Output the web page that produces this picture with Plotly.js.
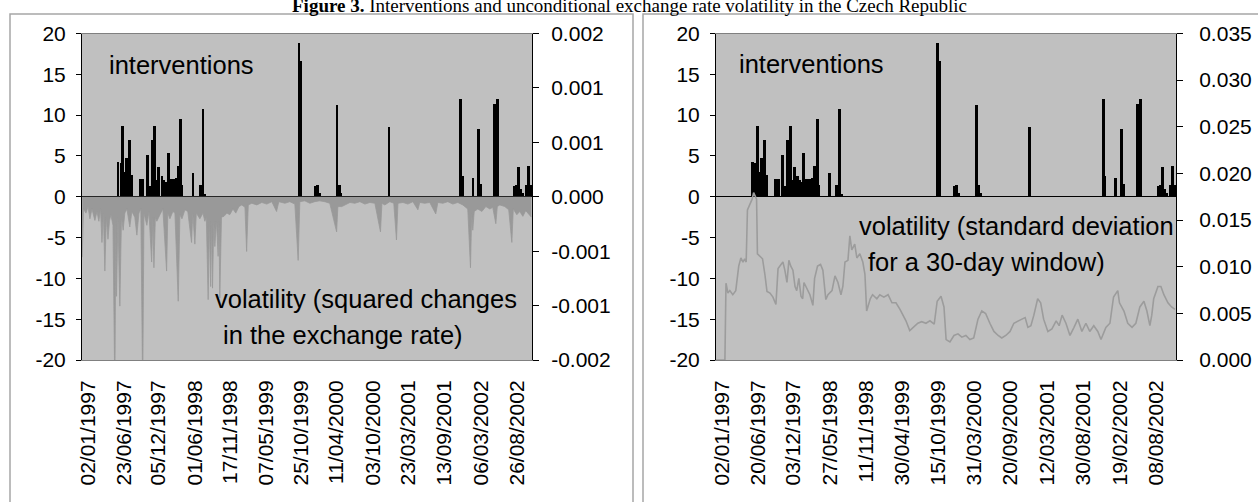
<!DOCTYPE html>
<html>
<head>
<meta charset="utf-8">
<script src="https://cdn.plot.ly/plotly-3.0.1.min.js"></script>
<style>html,body{margin:0;padding:0;background:#fff;}#chart{width:1258px;height:502px;}</style>
</head>
<body>
<div id="chart"></div>
<script>
// ---------------- DATA ----------------
// Interventions (both panels, left axis)
const interventionDates = ['1997-06-23','1997-07-08','1997-07-17','1997-07-28','1997-08-05','1997-08-18','1997-08-29',
 '1997-10-07','1997-10-21','1997-11-10','1997-11-24','1997-12-04','1997-12-16','1997-12-29','1998-01-06','1998-01-21',
 '1998-01-28','1998-02-09','1998-02-19','1998-03-05','1998-03-16','1998-03-30','1998-04-08','1998-04-22','1998-04-27',
 '1998-06-19','1998-07-23','1998-08-06','1998-08-13','1999-11-11','1999-11-18','2000-01-27','2000-02-07','2000-02-17',
 '2000-05-12','2000-05-22','2000-05-29','2001-01-17','2001-12-28','2002-01-04','2002-02-25','2002-03-25','2002-04-03',
 '2002-06-10','2002-06-21','2002-09-13','2002-09-23','2002-10-03','2002-10-14','2002-10-22','2002-11-11','2002-11-20','2002-11-29'];
const interventionValues = [4.2,4.1,8.7,3.0,4.8,7.0,2.7,
 2.2,2.2,5.1,1.3,7.0,8.7,2.0,3.6,2.6,
 2.0,1.8,5.3,2.2,2.2,2.3,3.8,9.5,1.5,
 2.9,1.4,10.7,0.3,18.8,16.6,1.3,1.4,0.4,
 11.3,1.4,0.4,8.6,12.0,2.5,2.3,8.3,1.6,
 11.4,12.0,1.3,1.5,3.6,1.0,0.5,1.4,3.8,1.5];

// Left panel: volatility as squared changes in the exchange rate (plotted negative, right axis)
const sqChangeDates = ['1997-01-02','1997-01-08','1997-01-20','1997-01-30','1997-02-08','1997-02-18','1997-03-04','1997-03-14',
 '1997-03-23','1997-03-31','1997-04-07','1997-04-14','1997-04-21','1997-04-28','1997-05-06','1997-05-13','1997-05-20','1997-05-30',
 '1997-06-08','1997-06-13','1997-06-16','1997-06-23','1997-07-02','1997-07-10','1997-07-18','1997-07-26','1997-08-05','1997-08-19',
 '1997-08-29','1997-09-12','1997-09-22','1997-10-02','1997-10-11','1997-10-20','1997-10-26','1997-11-09','1997-11-19','1997-12-02',
 '1997-12-08','1997-12-13','1997-12-20','1997-12-27','1998-01-11','1998-01-25','1998-02-12','1998-02-18','1998-02-28','1998-03-14',
 '1998-03-24','1998-04-09','1998-04-17','1998-04-27','1998-05-11','1998-05-25','1998-06-12','1998-06-18','1998-06-28','1998-07-05',
 '1998-07-22','1998-08-06','1998-08-15','1998-08-22','1998-08-31','1998-09-06','1998-09-12','1998-09-16','1998-09-21','1998-09-27',
 '1998-10-02','1998-10-10','1998-10-18','1998-10-22','1998-10-26','1998-11-03','1998-11-15','1998-11-29','1998-12-13','1998-12-28',
 '1999-01-11','1999-01-26','1999-02-09','1999-02-24','1999-03-04','1999-03-12','1999-03-29','1999-04-22','1999-05-16','1999-06-09',
 '1999-07-03','1999-07-26','1999-08-06','1999-09-04','1999-09-28','1999-10-22','1999-11-07','1999-11-15','1999-12-09','2000-01-02',
 '2000-01-26','2000-02-19','2000-03-14','2000-04-07','2000-05-10','2000-05-16','2000-06-04','2000-06-19','2000-07-13','2000-08-06',
 '2000-08-30','2000-09-23','2000-10-17','2000-11-10','2000-12-07','2000-12-14','2000-12-28','2001-01-21','2001-02-09','2001-02-22',
 '2001-03-01','2001-03-25','2001-04-18','2001-05-12','2001-06-05','2001-06-14','2001-07-08','2001-08-01','2001-08-30','2001-09-09',
 '2001-10-03','2001-10-27','2001-11-20','2001-12-14','2002-01-07','2002-01-31','2002-02-13','2002-02-19','2002-02-24','2002-03-03',
 '2002-03-20','2002-04-09','2002-04-28','2002-05-17','2002-05-31','2002-06-15','2002-06-22','2002-07-04','2002-07-28','2002-08-16',
 '2002-08-31','2002-09-07','2002-09-24','2002-10-08','2002-10-23','2002-11-06','2002-11-21','2002-12-03'];
const sqChangeValues = [-0.00074,-0.00015,-0.0002,-0.00012,-0.00027,-0.00015,-0.00029,-0.00018,
 -0.0003,-0.00015,-0.00056,-0.0002,-0.00091,-0.00025,-0.00052,-0.0003,-0.00022,-0.00035,
 -0.0024,-0.0003,-0.00122,-0.00025,-0.00134,-0.00025,-0.00041,-0.0002,-0.00015,-0.00037,
 -0.00018,-0.00025,-0.00047,-0.0002,-0.00015,-0.0024,-0.0002,-0.00035,-0.00018,-0.0008,
 -0.00025,-0.00087,-0.00025,-0.0003,-0.00022,-0.00015,-0.00091,-0.0002,-0.00027,-0.00018,
 -0.0002,-0.00128,-0.00022,-0.00027,-0.00016,-0.00018,-0.00056,-0.0002,-0.00058,-0.0002,
 -0.00027,-0.0002,-0.0003,-0.00025,-0.00126,-0.0003,-0.0011,-0.0003,-0.00112,-0.0003,
 -0.00061,-0.0003,-0.00073,-0.0003,-0.00124,-0.00025,-0.00024,-0.0002,-0.00022,-0.00015,
 -0.0002,-0.00012,-0.0001,-0.00013,-0.00067,-0.0001,-0.00008,-0.0001,-0.00007,-0.00009,
 -0.00006,-0.00018,-0.00006,-0.00008,-0.00006,-0.00009,-0.00078,-0.00006,-0.00005,-0.00008,
 -0.00006,-0.00005,-0.00006,-0.00008,-0.00043,-0.00012,-0.00012,-0.0001,-0.00007,-0.00008,
 -0.00006,-0.00009,-0.00007,-0.00008,-0.00043,-0.00008,-0.0001,-0.00006,-0.00008,-0.00053,
 -0.00008,-0.00007,-0.00009,-0.00006,-0.00016,-0.00007,-0.00008,-0.00007,-0.00021,-0.00007,
 -0.00008,-0.00006,-0.00009,-0.00007,-0.0001,-0.00015,-0.00087,-0.0002,-0.00041,-0.00018,
 -0.00015,-0.00018,-0.00012,-0.00015,-0.00013,-0.00033,-0.00012,-0.0001,-0.00012,-0.00016,
 -0.00056,-0.00015,-0.00022,-0.00018,-0.00024,-0.00017,-0.00022,-0.00025];

// Right panel: volatility as standard deviation for a 30-day window (right axis)
const stdDevDates = ['1997-01-02','1997-02-12','1997-02-17','1997-02-26','1997-03-07','1997-03-21','1997-04-04','1997-04-09',
 '1997-04-18','1997-04-28','1997-05-08','1997-05-16','1997-05-23','1997-05-29','1997-06-05','1997-06-13','1997-06-20','1997-06-27',
 '1997-07-04','1997-07-11','1997-07-15','1997-07-25','1997-08-08','1997-08-19','1997-08-29','1997-09-12','1997-09-26','1997-10-10',
 '1997-10-20','1997-11-03','1997-11-12','1997-11-21','1997-12-01','1997-12-10','1997-12-19','1997-12-29','1998-01-08','1998-01-16',
 '1998-01-26','1998-02-05','1998-02-13','1998-02-19','1998-03-05','1998-03-19','1998-04-02','1998-04-10','1998-04-24','1998-05-08',
 '1998-05-19','1998-06-02','1998-06-12','1998-07-01','1998-07-15','1998-07-29','1998-08-12','1998-08-21','1998-08-31','1998-09-14',
 '1998-09-23','1998-10-02','1998-10-16','1998-10-26','1998-11-09','1998-11-23','1998-12-03','1998-12-11','1998-12-28','1999-01-08',
 '1999-01-28','1999-02-11','1999-03-02','1999-03-22','1999-04-09','1999-04-28','1999-05-17','1999-05-31','1999-06-14','1999-07-02',
 '1999-07-21','1999-08-09','1999-08-27','1999-09-16','1999-10-05','1999-10-25','1999-11-08','1999-11-26','1999-12-10','1999-12-20',
 '2000-01-07','2000-01-26','2000-02-14','2000-03-03','2000-03-22','2000-04-10','2000-04-28','2000-05-18','2000-06-05','2000-06-23',
 '2000-07-13','2000-08-01','2000-08-21','2000-09-07','2000-09-26','2000-10-16','2000-11-03','2000-11-22','2000-12-11','2000-12-26',
 '2001-01-08','2001-01-22','2001-02-05','2001-02-23','2001-03-09','2001-03-23','2001-04-12','2001-05-01','2001-05-21','2001-06-04',
 '2001-06-18','2001-07-06','2001-07-25','2001-08-13','2001-08-31','2001-09-19','2001-10-08','2001-10-26','2001-11-14','2001-12-03',
 '2001-12-18','2002-01-10','2002-01-29','2002-02-15','2002-03-07','2002-03-15','2002-04-05','2002-04-23','2002-05-13','2002-05-31',
 '2002-06-19','2002-07-08','2002-07-22','2002-08-05','2002-08-14','2002-08-23','2002-09-12','2002-09-26','2002-10-10','2002-10-29',
 '2002-11-15','2002-12-01'];
const stdDevValues = [0,0,0.00823,0.00718,0.00744,0.0070,0.00744,0.00831,
 0.01006,0.01094,0.0105,0.01085,0.0105,0.0161,0.01645,0.0168,0.01724,0.01794,
 0.0175,0.01724,0.01138,0.01111,0.01085,0.00919,0.00735,0.00718,0.00674,0.00595,
 0.0098,0.01024,0.0105,0.00963,0.00831,0.01068,0.01006,0.00963,0.00788,0.00744,
 0.00875,0.00683,0.00656,0.00831,0.00761,0.0070,0.00586,0.00875,0.01006,0.01024,
 0.00963,0.00648,0.0070,0.00744,0.00901,0.00831,0.0070,0.00788,0.0105,0.01068,
 0.0133,0.01181,0.01243,0.01094,0.01138,0.0105,0.00919,0.00525,0.00656,0.0070,
 0.00656,0.0070,0.00674,0.0070,0.00613,0.00613,0.00543,0.00481,0.0042,0.00315,
 0.0035,0.00394,0.00411,0.00394,0.0042,0.00385,0.0063,0.00683,0.00569,0.00219,
 0.00193,0.00263,0.0028,0.00245,0.00263,0.00219,0.00236,0.00438,0.00525,0.00499,
 0.00394,0.00306,0.00263,0.00236,0.00263,0.00306,0.00394,0.0042,0.00438,0.00455,
 0.0035,0.00368,0.00481,0.00656,0.00613,0.00438,0.00306,0.00333,0.0042,0.00368,
 0.00481,0.00394,0.00263,0.0035,0.00438,0.00306,0.00394,0.00306,0.00368,0.00306,
 0.00219,0.0035,0.00394,0.00674,0.00744,0.00613,0.00525,0.00394,0.0035,0.00394,
 0.00569,0.0063,0.00525,0.00368,0.00481,0.00656,0.00788,0.00788,0.0070,0.00613,
 0.00569,0.00543];

// Tick labels
const leftDateTicks = ['1997-01-02','1997-06-23','1997-12-05','1998-06-01','1998-11-17','1999-05-07','1999-10-25',
 '2000-04-11','2000-10-03','2001-03-23','2001-09-13','2002-03-06','2002-08-26'];
const rightDateTicks = ['1997-01-02','1997-06-20','1997-12-03','1998-05-27','1998-11-11','1999-04-30','1999-10-15',
 '2000-03-31','2000-09-20','2001-03-12','2001-08-30','2002-02-19','2002-08-08'];
const interventionTicks = [20,15,10,5,0,-5,-10,-15,-20];
const interventionTickText = ['20','15','10','5','0','-5','-10','-15','-20'];
const sqChangeTickText = ['0.002','0.001','0.001','0.000','-0.001','-0.001','-0.002'];
const stdDevTickText = ['0.035','0.030','0.025','0.020','0.015','0.010','0.005','0.000'];

// ---------------- LAYOUT HELPERS ----------------
const W = 1258, H = 502;
const px = v => v / W;
const py = v => 1 - v / H;
const fmtDate = d => d.split('-').reverse().join('/');
const FONT = 'Liberation Sans, Arial, sans-serif';
const tickFont = {family: FONT, size: 21, color: '#000'};
const annFont = {family: FONT, size: 25.5, color: '#000'};
const xRange = ['1997-01-01', '2002-12-06'];
const yDom = [py(360), py(33.5)];
const barWidth = 14 * 86400000;

const sqTickVals = sqChangeTickText.map((_, i) => 0.002 - i * 0.004 / 6);
const sdTickVals = stdDevTickText.map(t => parseFloat(t));

const data = [
  {type: 'bar', x: interventionDates, y: interventionValues, xaxis: 'x', yaxis: 'y',
   marker: {color: '#000', line: {width: 0}}, width: barWidth, hoverinfo: 'skip'},
  {type: 'scatter', mode: 'lines', x: sqChangeDates, y: sqChangeValues, xaxis: 'x', yaxis: 'y2',
   line: {color: '#999999', width: 0.8}, fill: 'tozeroy', fillcolor: '#999999', hoverinfo: 'skip'},
  {type: 'bar', x: interventionDates, y: interventionValues, xaxis: 'x2', yaxis: 'y3',
   marker: {color: '#000', line: {width: 0}}, width: barWidth, hoverinfo: 'skip'},
  {type: 'scatter', mode: 'lines', x: stdDevDates, y: stdDevValues, xaxis: 'x2', yaxis: 'y4',
   line: {color: '#9c9c9c', width: 1.6}, hoverinfo: 'skip'}
];

const xCommon = {type: 'date', range: xRange, tickangle: -90, tickfont: tickFont, ticks: '',
  showline: true, linecolor: '#808080', linewidth: 1, mirror: true, showgrid: false, zeroline: false,
  ticklabelstandoff: 11, ticklabelshift: 6};
const yLeftCommon = {range: [-20, 20], tickvals: interventionTicks, ticktext: interventionTickText,
  tickfont: tickFont, ticks: 'outside', ticklen: 5, tickcolor: '#000', showline: true, linecolor: '#000',
  showgrid: false, zeroline: true, zerolinecolor: '#000', zerolinewidth: 1, ticklabelstandoff: 6};
const yRightCommon = {side: 'right', tickfont: tickFont, ticks: 'outside', ticklen: 6, tickcolor: '#000',
  showline: true, linecolor: '#000', showgrid: false, zeroline: false};

const layout = {
  width: W, height: H, margin: {l: 0, r: 0, t: 0, b: 0},
  paper_bgcolor: '#fff', plot_bgcolor: '#c0c0c0', showlegend: false, bargap: 0,
  xaxis: Object.assign({}, xCommon, {domain: [px(82), px(532)], anchor: 'y',
    tickvals: leftDateTicks, ticktext: leftDateTicks.map(fmtDate)}),
  yaxis: Object.assign({}, yLeftCommon, {domain: yDom, anchor: 'x'}),
  yaxis2: Object.assign({}, yRightCommon, {overlaying: 'y', anchor: 'x', range: [-0.002, 0.002],
    tickvals: sqTickVals, ticktext: sqChangeTickText, ticklabelstandoff: 8}),
  xaxis2: Object.assign({}, xCommon, {domain: [px(716), px(1176)], anchor: 'y3',
    tickvals: rightDateTicks, ticktext: rightDateTicks.map(fmtDate)}),
  yaxis3: Object.assign({}, yLeftCommon, {domain: yDom, anchor: 'x2'}),
  yaxis4: Object.assign({}, yRightCommon, {overlaying: 'y3', anchor: 'x2', range: [0, 0.035],
    tickvals: sdTickVals, ticktext: stdDevTickText, ticklabelstandoff: 12}),
  shapes: [
    {type: 'rect', xref: 'paper', yref: 'paper', x0: px(10), x1: px(633), y0: py(515), y1: py(14),
     line: {color: '#a6a6a6', width: 1.5}, layer: 'below'},
    {type: 'rect', xref: 'paper', yref: 'paper', x0: px(643), x1: px(1268), y0: py(515), y1: py(14),
     line: {color: '#a6a6a6', width: 1.5}, layer: 'below'}
  ],
  annotations: [
    {xref: 'paper', yref: 'paper', x: px(629), y: py(18), xanchor: 'center', yanchor: 'bottom', showarrow: false,
     text: '<b>Figure 3.</b> Interventions and unconditional exchange rate volatility in the Czech Republic',
     font: {family: 'Liberation Serif, Times New Roman, serif', size: 19, color: '#000'}},
    {xref: 'paper', yref: 'paper', x: px(108), y: py(65), xanchor: 'left', yanchor: 'middle', showarrow: false,
     borderpad: 0, text: 'interventions', font: annFont},
    {xref: 'paper', yref: 'paper', x: px(214), y: py(299), xanchor: 'left', yanchor: 'middle', showarrow: false,
     borderpad: 0, text: 'volatility (squared changes', font: annFont},
    {xref: 'paper', yref: 'paper', x: px(222), y: py(335), xanchor: 'left', yanchor: 'middle', showarrow: false,
     borderpad: 0, text: 'in the exchange rate)', font: annFont},
    {xref: 'paper', yref: 'paper', x: px(738), y: py(64), xanchor: 'left', yanchor: 'middle', showarrow: false,
     borderpad: 0, text: 'interventions', font: annFont},
    {xref: 'paper', yref: 'paper', x: px(858), y: py(226), xanchor: 'left', yanchor: 'middle', showarrow: false,
     borderpad: 0, text: 'volatility (standard deviation', font: annFont},
    {xref: 'paper', yref: 'paper', x: px(867), y: py(262), xanchor: 'left', yanchor: 'middle', showarrow: false,
     borderpad: 0, text: 'for a 30-day window)', font: annFont}
  ]
};

Plotly.newPlot('chart', data, layout, {staticPlot: true, displayModeBar: false});
</script>
</body>
</html>
